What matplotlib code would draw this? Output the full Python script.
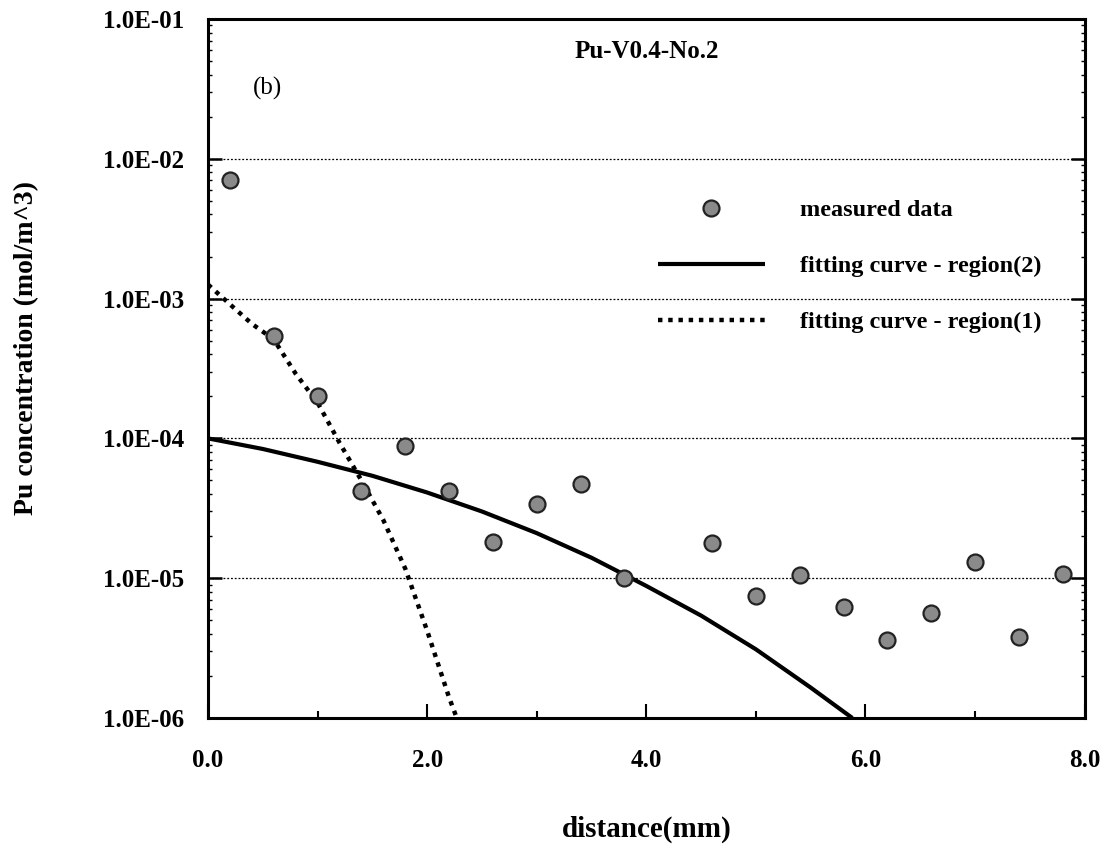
import matplotlib
matplotlib.use("Agg")
import matplotlib.pyplot as plt
from matplotlib.ticker import FixedLocator, NullFormatter, LogLocator

plt.rcParams['font.family'] = ['Liberation Serif', 'DejaVu Serif']
plt.rcParams['font.weight'] = 'bold'

# measured data
meas_x = [0.2, 0.6, 1.0, 1.4, 1.8, 2.2, 2.6, 3.0, 3.4, 3.8, 4.6, 5.0, 5.4, 5.8, 6.2, 6.6, 7.0, 7.4, 7.8]
meas_c = [7.0e-3, 5.4e-4, 2.0e-4, 4.2e-5, 8.8e-5, 4.2e-5, 1.82e-5, 3.4e-5, 4.7e-5, 1.0e-5,
          1.8e-5, 7.4e-6, 1.05e-5, 6.2e-6, 3.6e-6, 5.6e-6, 1.3e-5, 3.8e-6, 1.07e-5]

# fitting curve - region(2) (solid)
fit2_x = [0.0, 0.5, 1.0, 1.5, 2.0, 2.5, 3.0, 3.5, 4.0, 4.5, 5.0, 5.5, 5.88]
fit2_c = [1.0e-4, 8.4e-5, 6.8e-5, 5.4e-5, 4.1e-5, 3.0e-5, 2.1e-5, 1.4e-5, 8.8e-6, 5.4e-6, 3.1e-6, 1.65e-6, 1.0e-6]

# fitting curve - region(1) (dotted)
fit1_x = [0.0, 0.2, 0.4, 0.6, 0.8, 1.0, 1.2, 1.4, 1.6, 1.8, 2.0, 2.2, 2.27]
fit1_c = [1.26e-3, 9.1e-4, 6.6e-4, 5.1e-4, 2.9e-4, 1.8e-4, 9.3e-5, 5.0e-5, 2.6e-5, 1.17e-5, 4.2e-6, 1.4e-6, 1.0e-6]

x_ticks = [0, 2, 4, 6, 8]
x_ticklabels = ['0.0', '2.0', '4.0', '6.0', '8.0']
y_ticks = [1e-6, 1e-5, 1e-4, 1e-3, 1e-2, 1e-1]
y_ticklabels = ['1.0E-06', '1.0E-05', '1.0E-04', '1.0E-03', '1.0E-02', '1.0E-01']
grid_levels = [1e-5, 1e-4, 1e-3, 1e-2]

fig = plt.figure(figsize=(11.09, 8.44), dpi=100)
ax = fig.add_axes([0.1876, 0.1493, 0.7904, 0.8282])
ax.set_yscale('log')
ax.set_xlim(0, 8)
ax.set_ylim(1e-6, 1e-1)

for g in grid_levels:
    ax.axhline(g, color='black', lw=0.9, ls=(0, (1.5, 1.5)), zorder=1)

ax.plot(fit2_x, fit2_c, color='black', lw=3.0, solid_capstyle='butt', zorder=3,
        label='fitting curve - region(2)')
ax.plot(fit1_x, fit1_c, color='black', lw=3.2, ls=(0, (1, 1.3)), zorder=3,
        label='fitting curve - region(1)')
ax.plot(meas_x, meas_c, ls='none', marker='o', ms=11.5, mfc='#8a8a8a', mec='#222222',
        mew=1.6, zorder=4, label='measured data')

for s in ax.spines.values():
    s.set_linewidth(2.2)

ax.xaxis.set_major_locator(FixedLocator(x_ticks))
ax.set_xticklabels(x_ticklabels)
ax.xaxis.set_minor_locator(FixedLocator([1, 3, 5, 7]))
ax.yaxis.set_major_locator(FixedLocator(y_ticks))
ax.set_yticklabels(y_ticklabels)
ax.yaxis.set_minor_locator(LogLocator(base=10, subs=range(2, 10)))
ax.yaxis.set_minor_formatter(NullFormatter())

ax.tick_params(axis='x', which='major', direction='in', length=10, width=1.5, pad=22,
               labelsize=18, top=False)
ax.tick_params(axis='x', which='minor', direction='in', length=5, width=1.5, top=False)
ax.tick_params(axis='y', which='major', direction='in', length=10, width=1.8, pad=17,
               labelsize=18, right=True)
ax.tick_params(axis='y', which='minor', direction='in', length=3, width=1.0, right=True)
for lab in ax.get_xticklabels() + ax.get_yticklabels():
    lab.set_fontweight('bold')

ax.set_xlabel('distance(mm)', fontsize=21, fontweight='bold', labelpad=32)
ax.set_ylabel('Pu concentration (mol/m^3)', fontsize=20, fontweight='bold', labelpad=46)
ax.yaxis.set_label_coords(-0.193, 0.53)

ax.text(0.5, 0.953, 'Pu-V0.4-No.2', transform=ax.transAxes, ha='center', va='center',
        fontsize=18, fontweight='bold')
ax.text(0.068, 0.901, '(b)', transform=ax.transAxes, ha='center', va='center',
        fontsize=18, fontweight='normal')

h, l = ax.get_legend_handles_labels()
order = [2, 0, 1]
leg = ax.legend([h[i] for i in order], [l[i] for i in order], loc='upper left',
                bbox_to_anchor=(0.513, 0.742), frameon=False, fontsize=17.5,
                handlelength=4.4, handletextpad=1.44, labelspacing=1.4, borderaxespad=0,
                borderpad=0)
for t in leg.get_texts():
    t.set_fontweight('bold')

fig.savefig('out.png', dpi=100)
